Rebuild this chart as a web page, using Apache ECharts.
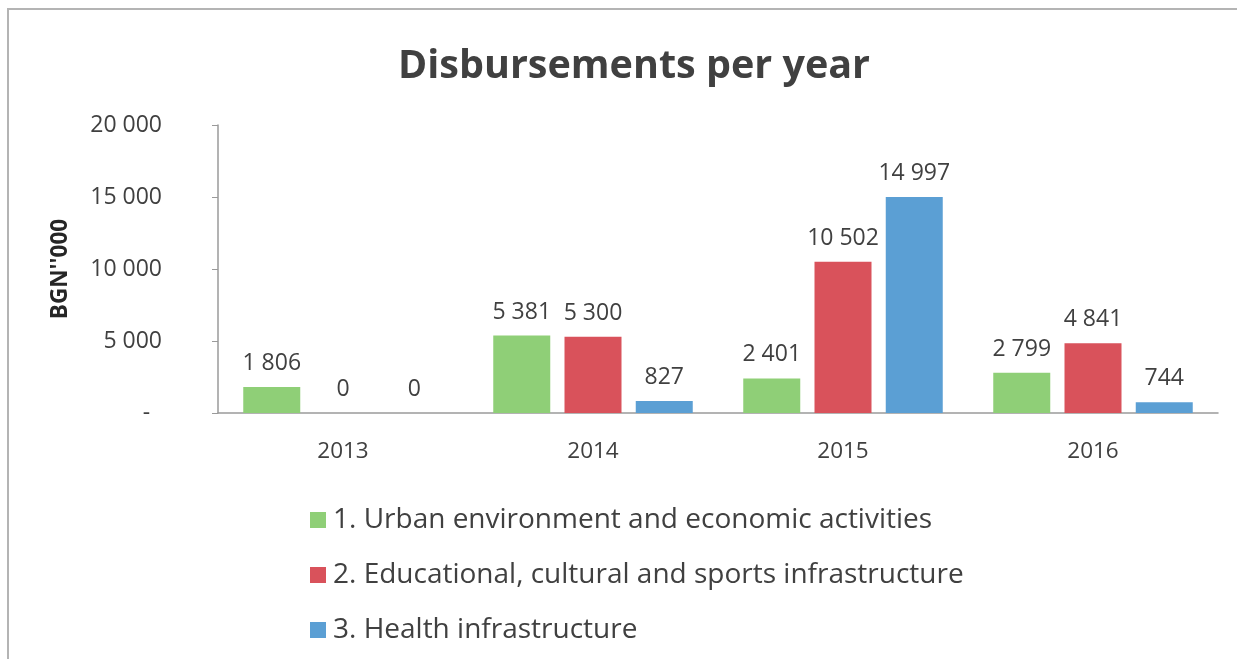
<!DOCTYPE html>
<html>
<head>
<meta charset="utf-8">
<script src="https://cdn.jsdelivr.net/npm/echarts@6.0.0/dist/echarts.min.js"></script>
<style>
  html, body { margin: 0; padding: 0; background: #fff; }
  #frame {
    position: absolute; left: 0; top: 0; width: 1237px; height: 659px;
  }
  #border {
    position: absolute; left: 7px; top: 8px; right: -5px; bottom: -5px;
    border-top: 2px solid #b4b4b4; border-left: 2px solid #b4b4b4;
  }
  #chart { position: absolute; left: 0; top: 0; width: 1237px; height: 659px; }
</style>
</head>
<body>
<div id="frame">
  <div id="border"></div>
  <div id="chart"></div>
</div>
<script>
const years = ['2013', '2014', '2015', '2016'];
const seriesNames = [
  '1. Urban environment and economic activities',
  '2. Educational, cultural and sports infrastructure',
  '3. Health infrastructure'
];
const urban = [1806, 5381, 2401, 2799];
const educational = [0, 5300, 10502, 4841];
const health = [0, 827, 14997, 744];
const colors = ['#8fcf77', '#d9525b', '#5b9fd4'];

const fmt = (v) => String(v).replace(/\B(?=(\d{3})+(?!\d))/g, ' ');
const font = '"Open Sans", "Noto Sans", sans-serif';

const series = [urban, educational, health].map((data, i) => ({
  name: seriesNames[i],
  type: 'bar',
  barWidth: 57,
  barGap: '25%',
  itemStyle: { color: colors[i] },
  label: {
    show: true,
    position: 'top',
    distance: 12,
    fontFamily: font,
    fontSize: 23,
    color: '#404040',
    formatter: (p) => fmt(p.value)
  },
  data
}));

const chart = echarts.init(document.getElementById('chart'));
chart.setOption({
  animation: false,
  title: {
    text: 'Disbursements per year',
    left: 393,
    top: 42,
    textStyle: { fontFamily: font, fontSize: 39.5, fontWeight: 'bold', color: '#404040' }
  },
  grid: { left: 218, right: 19, top: 125, bottom: 246 },
  legend: {
    orient: 'vertical',
    left: 305,
    top: 498,
    itemWidth: 16,
    itemHeight: 16,
    itemGap: 21,
    icon: 'rect',
    textStyle: { fontFamily: font, fontSize: 28, color: '#404040', lineHeight: 34, padding: [0, 0, 0, 2] }
  },
  xAxis: {
    type: 'category',
    data: years,
    axisLine: { lineStyle: { color: '#9a9a9a', width: 1.5 } },
    axisTick: { show: false },
    axisLabel: { fontFamily: font, fontSize: 22.5, color: '#404040', margin: 27 }
  },
  yAxis: {
    type: 'value',
    min: 0,
    max: 20000,
    interval: 5000,
    name: "BGN''000",
    nameLocation: 'middle',
    nameGap: 146,
    nameRotate: 90,
    nameTextStyle: { fontFamily: font, fontSize: 22.5, fontWeight: 'bold', color: '#262626' },
    axisLine: { show: true, lineStyle: { color: '#9a9a9a', width: 1.5 } },
    axisTick: { show: true, length: 6, lineStyle: { color: '#9a9a9a' } },
    splitLine: { show: false },
    axisLabel: {
      fontFamily: font, fontSize: 23, color: '#404040', margin: 56,
      formatter: (v) => (v === 0 ? '-  ' : fmt(v))
    }
  },
  series
});
</script>
</body>
</html>
